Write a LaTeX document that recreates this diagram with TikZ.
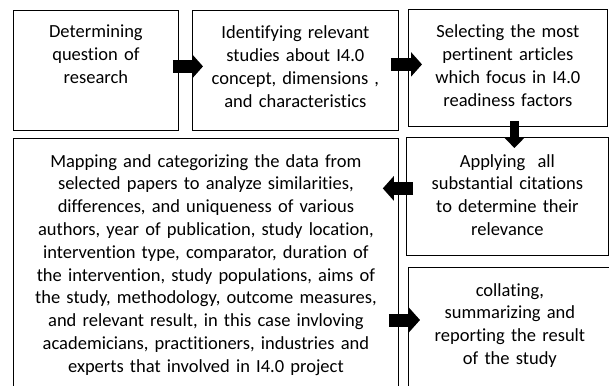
\documentclass[tikz,border=0pt]{standalone}
\usepackage{fontspec}
\setmainfont{Carlito}[Ligatures=NoCommon]
\usetikzlibrary{arrows.meta,calc}

\tikzset{
  caja/.style={draw, line width=0.8pt, anchor=north west, inner sep=0pt},
  texto/.style={anchor=base, align=center, inner sep=0pt, font=\fontsize{18.5}{22.8}\selectfont},
  flecha/.style={line width=13pt, -{Triangle[width=24pt,length=11pt]}},
  flechita/.style={line width=9pt, -{Triangle[width=19pt,length=10pt]}}
}

\begin{document}
\begin{tikzpicture}[x=1pt,y=-1pt]
\useasboundingbox (0,0) rectangle (609,385);
\clip (0,0) rectangle (609,385);
% Cajas de la fila superior
\node[caja, minimum width=165pt, minimum height=120pt] (b1) at (13,10) {};
\node[caja, minimum width=206pt, minimum height=120pt] (b2) at (192,10) {};
\node[caja, minimum width=199pt, minimum height=117pt] (b3) at (408,9) {};
% Cajas de abajo (se salen por el borde)
\node[caja, minimum width=385pt, minimum height=270pt] (b4) at (13,138) {};
\node[caja, minimum width=202pt, minimum height=118pt] (b5) at (406,137) {};
\node[caja, minimum width=203pt, minimum height=140pt] (b6) at (408,267) {};
% Textos
\node[texto, text width=160pt] (t1) at ($(b1.north)+(0,28)$) {Determining\\question of\\research};
\node[texto, text width=200pt] (t2) at ($(b2.north)+(0,29)$) {Identifying relevant\\studies about I4.0\\concept, dimensions ,\\and characteristics};
\node[texto, text width=195pt] (t3) at ($(b3.north)+(0,29)$) {Selecting the most\\pertinent articles\\which focus in I4.0\\readiness factors};
\node[texto, text width=380pt] (t4) at ($(b4.north)+(0,29)$) {Mapping and categorizing the data from\\selected papers to analyze similarities,\\differences, and uniqueness of various\\authors, year of publication, study location,\\intervention type, comparator, duration of\\the intervention, study populations, aims of\\the study, methodology, outcome measures,\\and relevant result, in this case invloving\\academicians, practitioners, industries and\\experts that involved in I4.0 project};
\node[texto, text width=196pt] (t5) at ($(b5.north)+(0,30)$) {Applying\ \ all\\substantial citations\\to determine their\\relevance};
\node[texto, text width=196pt] (t6) at ($(b6.north)+(0,29)$) {collating,\\summarizing and\\reporting the result\\of the study};
% Flechas
\draw[flecha] ($(b1.east)+(-6,-4)$) -- ($(b2.west)+(11,-4)$);
\draw[flecha] ($(b2.east)+(-8,-6)$) -- ($(b3.west |- b2.east)+(14,-6)$);
\draw[flechita] ($(b3.south)+(6.5,-6)$) -- ($(b5.north -| b3.south)+(6.5,11)$);
\draw[flecha] ($(b5.west)+(7,-8)$) -- ($(b4.east |- b5.west)+(-16,-8)$);
\draw[flecha] ($(b4.east |- b6.north)+(-10,53)$) -- ($(b6.north west)+(12,53)$);
\end{tikzpicture}
\end{document}
